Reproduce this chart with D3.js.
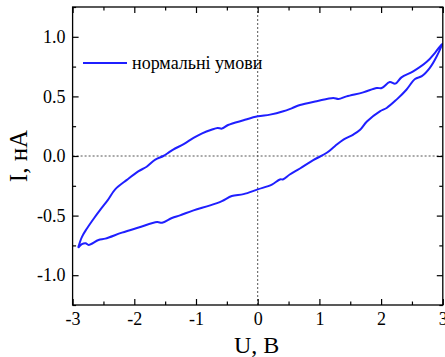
<!DOCTYPE html>
<html><head><meta charset="utf-8">
<script src="https://cdn.jsdelivr.net/npm/d3@7"></script>
<style>
html,body{margin:0;padding:0;background:#fff;}
svg{display:block;}
text{font-family:"Liberation Serif","Times New Roman",serif;fill:#000;}
</style></head>
<body>
<svg id="c" width="445" height="357"></svg>
<script>
// Data
const forwardU = [-2.91,-2.85,-2.77,-2.65,-2.55,-2.43,-2.31,-2.12,-1.93,-1.80,-1.66,-1.53,-1.44,-1.37,-1.20,-1.04,-0.90,-0.75,-0.65,-0.58,-0.48,-0.23,0.0,0.2,0.415,0.55,0.685,0.956,1.225,1.31,1.44,1.71,1.93,2.01,2.14,2.23,2.33,2.52,2.74,2.88,2.99];
const forwardI = [-0.77,-0.68,-0.61,-0.52,-0.45,-0.37,-0.28,-0.20,-0.127,-0.09,-0.03,0.0,0.03,0.054,0.10,0.152,0.19,0.22,0.235,0.23,0.26,0.30,0.333,0.347,0.375,0.40,0.428,0.46,0.487,0.478,0.50,0.534,0.57,0.57,0.62,0.607,0.66,0.71,0.79,0.87,0.94];
const backwardU = [2.99,2.90,2.79,2.66,2.55,2.41,2.25,2.09,1.98,1.77,1.66,1.55,1.39,1.25,1.12,0.90,0.685,0.52,0.415,0.36,0.23,0.0,-0.23,-0.42,-0.58,-0.77,-1.04,-1.26,-1.39,-1.55,-1.63,-1.93,-2.2,-2.47,-2.58,-2.74,-2.79,-2.85,-2.91];
const backwardI = [0.94,0.835,0.74,0.67,0.646,0.556,0.473,0.403,0.375,0.29,0.22,0.18,0.138,0.082,0.027,-0.035,-0.105,-0.155,-0.195,-0.197,-0.24,-0.28,-0.32,-0.336,-0.378,-0.414,-0.456,-0.498,-0.52,-0.56,-0.554,-0.60,-0.643,-0.693,-0.705,-0.746,-0.732,-0.74,-0.77];
const xTicks = [-3,-2,-1,0,1,2,3];
const yTicks = [-1.0,-0.5,0.0,0.5,1.0];
const legendLabel = "нормальні умови";
const xTitle = "U, В";
const yTitle = "I, нА";

const svg = d3.select("#c");
const L = 72.6, R = 442.8, T = 7, B = 305;
const x = d3.scaleLinear().domain([-3,3]).range([L,R]);
const y = d3.scaleLinear().domain([-1.25,1.25]).range([B,T]);

// zero reference lines (dotted)
const g = svg.append("g");
g.append("line").attr("x1",x(0)).attr("x2",x(0)).attr("y1",T).attr("y2",B)
  .attr("stroke","#555").attr("stroke-width",1).attr("stroke-dasharray","2,2");
g.append("line").attr("x1",L).attr("x2",R).attr("y1",y(0)).attr("y2",y(0))
  .attr("stroke","#555").attr("stroke-width",1).attr("stroke-dasharray","2,2");

// data
const fwd = forwardU.map((u,i)=>[u,forwardI[i]]);
const bwd = backwardU.map((u,i)=>[u,backwardI[i]]);
const line = d3.line().x(d=>x(d[0])).y(d=>y(d[1])).curve(d3.curveCatmullRom.alpha(0.5));
svg.append("path").attr("d",line(fwd.concat(bwd.slice(1)))).attr("fill","none")
  .attr("stroke","#1f1fff").attr("stroke-width",2).attr("stroke-linejoin","round");

// axes with inner ticks
const minorX = d3.range(-2.5,3,1);
const minorY = d3.range(-1.25,1.3,0.5);
function styleAxis(sel){ sel.select(".domain").remove(); sel.selectAll("line").attr("stroke","#000").attr("stroke-width",1.2); }
const fmtY = d3.format(".1f");
const fmtX = d => d3.format("d")(d).replace("−","-");

const xb = svg.append("g").attr("transform",`translate(0,${B})`)
  .call(d3.axisBottom(x).tickValues(xTicks).tickSize(-6).tickPadding(7).tickFormat(fmtX));
styleAxis(xb);
xb.selectAll("text").attr("font-size",18).attr("font-family","Liberation Serif");
svg.append("g").attr("transform",`translate(0,${B})`)
  .call(d3.axisBottom(x).tickValues(minorX).tickSize(-3.5).tickFormat("")).call(styleAxis);

const xt = svg.append("g").attr("transform",`translate(0,${T})`)
  .call(d3.axisTop(x).tickValues(xTicks).tickSize(-6).tickFormat(""));
styleAxis(xt);
svg.append("g").attr("transform",`translate(0,${T})`)
  .call(d3.axisTop(x).tickValues(minorX).tickSize(-3.5).tickFormat("")).call(styleAxis);

const yl = svg.append("g").attr("transform",`translate(${L},0)`)
  .call(d3.axisLeft(y).tickValues(yTicks).tickSize(-6).tickPadding(7).tickFormat(d=>fmtY(d).replace("−","-")));
styleAxis(yl);
yl.selectAll("text").attr("font-size",18).attr("font-family","Liberation Serif");
svg.append("g").attr("transform",`translate(${L},0)`)
  .call(d3.axisLeft(y).tickValues(minorY).tickSize(-3.5).tickFormat("")).call(styleAxis);

const yr = svg.append("g").attr("transform",`translate(${R},0)`)
  .call(d3.axisRight(y).tickValues(yTicks).tickSize(-6).tickFormat(""));
styleAxis(yr);
svg.append("g").attr("transform",`translate(${R},0)`)
  .call(d3.axisRight(y).tickValues(minorY).tickSize(-3.5).tickFormat("")).call(styleAxis);

// frame
svg.append("rect").attr("x",L).attr("y",T).attr("width",R-L).attr("height",B-T)
  .attr("fill","none").attr("stroke","#000").attr("stroke-width",1.3);

// titles
svg.append("text").attr("x",(L+R)/2 - 1).attr("y",353).attr("text-anchor","middle")
  .attr("font-size",24).text(xTitle);
svg.append("text").attr("transform",`translate(27,${y(0)}) rotate(-90)`).attr("text-anchor","middle")
  .attr("font-size",25).text(yTitle);

// legend
svg.append("line").attr("x1",83).attr("x2",127).attr("y1",63).attr("y2",63)
  .attr("stroke","#1f1fff").attr("stroke-width",2);
svg.append("text").attr("x",132).attr("y",69).attr("font-size",18).text(legendLabel);
</script>
</body></html>
